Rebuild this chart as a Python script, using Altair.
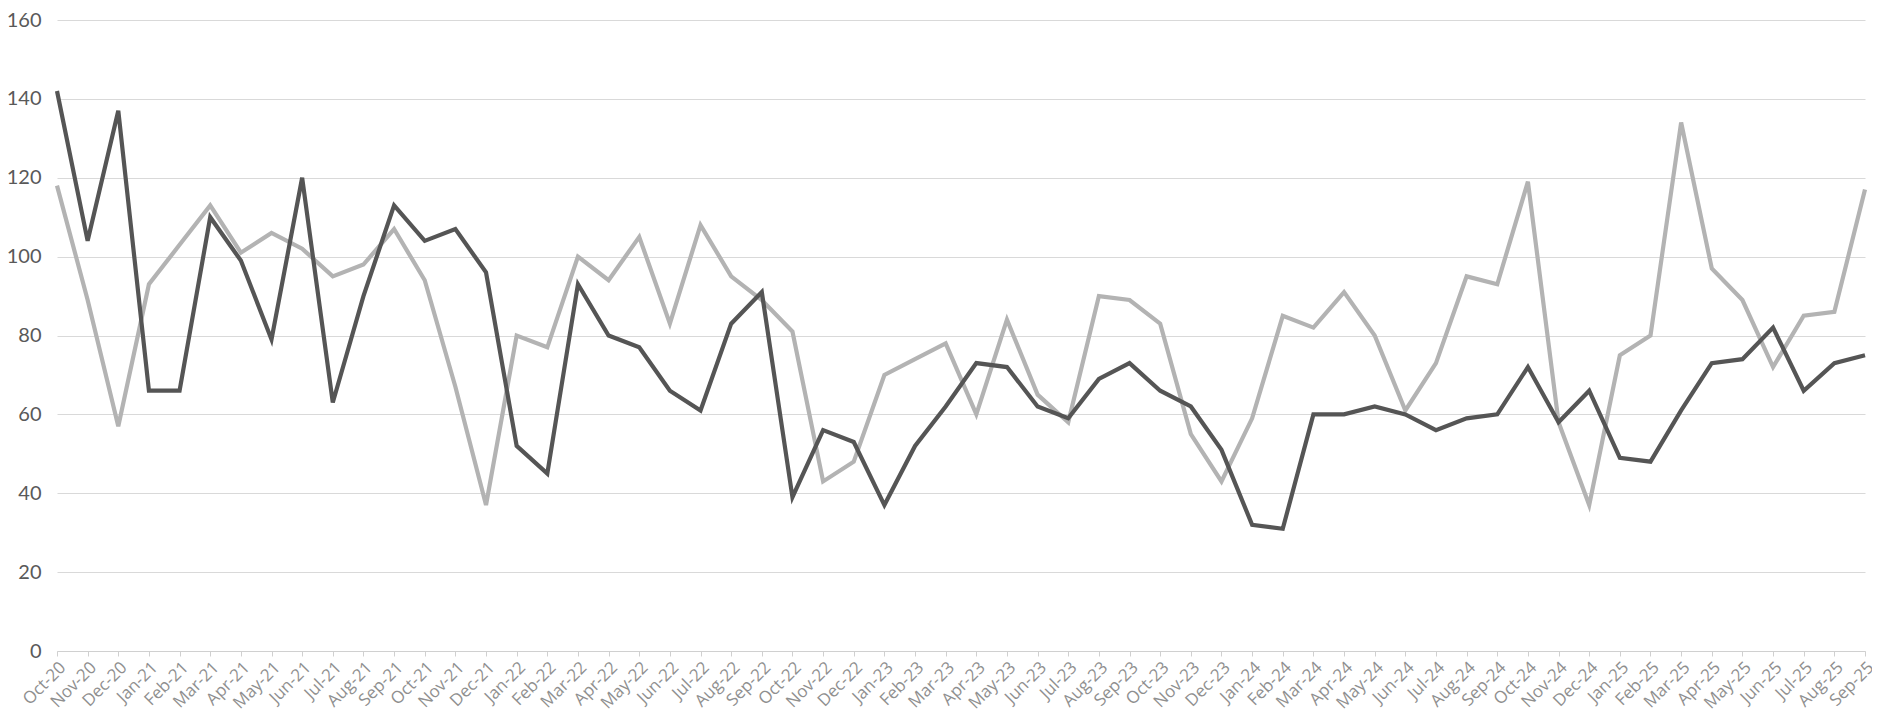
import altair as alt
import pandas as pd

months = ["Oct-20","Nov-20","Dec-20","Jan-21","Feb-21","Mar-21","Apr-21","May-21","Jun-21","Jul-21",
          "Aug-21","Sep-21","Oct-21","Nov-21","Dec-21","Jan-22","Feb-22","Mar-22","Apr-22","May-22",
          "Jun-22","Jul-22","Aug-22","Sep-22","Oct-22","Nov-22","Dec-22","Jan-23","Feb-23","Mar-23",
          "Apr-23","May-23","Jun-23","Jul-23","Aug-23","Sep-23","Oct-23","Nov-23","Dec-23","Jan-24",
          "Feb-24","Mar-24","Apr-24","May-24","Jun-24","Jul-24","Aug-24","Sep-24","Oct-24","Nov-24",
          "Dec-24","Jan-25","Feb-25","Mar-25","Apr-25","May-25","Jun-25","Jul-25","Aug-25","Sep-25"]

dark = [142,104,137,66,66,110,99,79,120,63,
        90,113,104,107,96,52,45,93,80,77,
        66,61,83,91,39,56,53,37,52,62,
        73,72,62,59,69,73,66,62,51,32,
        31,60,60,62,60,56,59,60,72,58,
        66,49,48,61,73,74,82,66,73,75]

light = [118,89,57,93,103,113,101,106,102,95,
         98,107,94,67,37,80,77,100,94,105,
         83,108,95,89,81,43,48,70,74,78,
         60,84,65,58,90,89,83,55,43,59,
         85,82,91,80,61,73,95,93,119,58,
         37,75,80,134,97,89,72,85,86,117]

series_names = ["Series A", "Series B"]
colors = ["#b3b3b3", "#555555"]

rows = []
for i, m in enumerate(months):
    rows.append({"month": m, "series": series_names[0], "value": light[i], "order": i})
    rows.append({"month": m, "series": series_names[1], "value": dark[i], "order": i})
df = pd.DataFrame(rows)

chart = alt.Chart(df).mark_line(strokeWidth=4.2, strokeJoin="miter").encode(
    x=alt.X("month:O", sort=months, scale=alt.Scale(padding=0),
            axis=alt.Axis(title=None, labelAngle=-45, labelAlign="right", labelBaseline="top",
                          labelFontSize=17, labelColor="#8f8f8f", labelFont="Open Sans",
                          domainColor="#d0d0d0", tickColor="#d0d0d0", tickSize=5,
                          labelPadding=3, grid=False, labelOverlap=False, labelBound=False)),
    y=alt.Y("value:Q", scale=alt.Scale(domain=[0, 160]),
            axis=alt.Axis(title=None, values=[0,20,40,60,80,100,120,140,160],
                          labelFontSize=20, labelColor="#595959", labelFont="Lato",
                          domain=False, ticks=False, labelPadding=16,
                          gridColor="#d9d9d9", gridWidth=1)),
    color=alt.Color("series:N", scale=alt.Scale(domain=series_names, range=colors), legend=None),
    order=alt.Order("order:Q"),
).properties(
    width=1808, height=631,
    autosize=alt.AutoSizeParams(type="none"),
    padding={"left": 49, "top": 12, "right": 7, "bottom": 64},
).configure_view(stroke=None)

chart.save("out.html", embed_options={"renderer": "svg", "actions": False})
